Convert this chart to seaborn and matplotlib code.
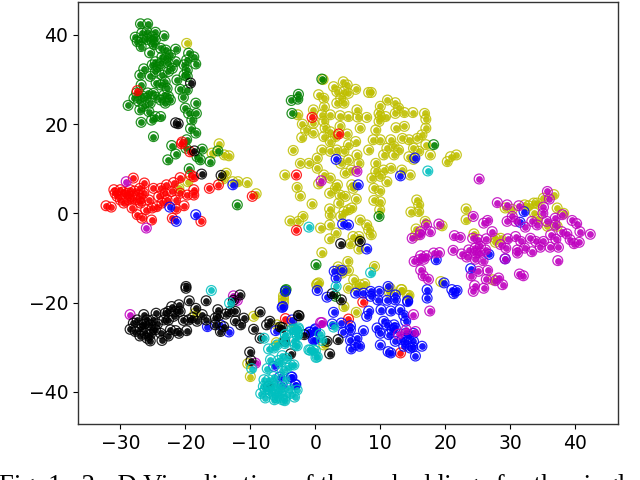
import matplotlib
matplotlib.use('Agg')
import matplotlib.pyplot as plt
import pandas as pd
import seaborn as sns

#points, one list per class (x, y)
green_pts = [(-26.9,42.5),(-25.8,42.5),(-27.7,39.5),(-26.7,40.4),(-25.9,40.7),(-25.1,39.6),(-24.6,40.6),(-27.4,38.5),
    (-26.7,38.9),(-25.9,39),(-25.1,38.5),(-24.6,39),(-26.8,37.4),(-23.3,39.8),(-24.8,37.8),
    (-25.5,36),(-23.8,37),(-23,36.6),(-21.5,36.8),(-22.3,35.5),(-23.6,35.1),(-24.6,34),(-25.1,33.3),(-23.8,33.6),
    (-22.6,33.6),(-21.5,34),(-19.5,35.9),(-18.7,35.1),(-19.8,34.4),(-18.4,33.5),(-20.2,33.3),(-19.7,32.1),(-26.4,32.4),
    (-27,31),(-25.4,30.7),(-24.6,31.8),(-23.6,31),(-22.6,31.8),(-21.3,29.9),(-20.2,31),(-19.7,30.7),(-24.5,29.3),
    (-23.1,29.5),(-23.8,28.8),(-26.8,28.8),(-20.8,27.8),(-19.7,27.7),(-24.9,26.9),(-23.3,26.5),(-22.6,26.2),(-23.8,25.4),
    (-23.1,24.7),(-22.3,25.4),(-26.1,25.8),(-27.9,25.8),(-27.2,25.1),(-25.4,24.7),(-28.8,24.2),(-27,23.2),(-25.6,22.8),
    (-23.8,21.7),(-24.6,21.7),(-25.2,20.9),(-26.8,20.4),(-20.3,26),(-18.4,24.7),(-20,23.6),(-18.3,22.4),(-19.5,22.4),
    (-19,20.9),(-19.2,19),(-18.4,18),(-24.9,17.2),(-22.1,15.2),(-19.8,16.5),(-19.9,14.6),(-21.5,13.3),(-22.7,12),
    (-17.4,14.4),(-15,14),(-18.2,12.7),(-17.7,12),(-16.2,11.6),(-19.4,10),(-12,1.9),
    (-26.4,24),(-24.5,26),(-25.8,27),(-27.5,27),(-26.6,26.3),(-22.8,28),(-24.2,32.8),(-23,34.8),(-22,32.5),
    (1,30.1),(-2.6,26.7),(-3.7,25.3),(-2.7,25.6),(-3.6,22.4),(18.2,15.4),(9.8,-.7),(.1,-11.5),(-4.6,-17.3),(3.1,-18.6),(-4.5,-17.1)]

red_pts = [(-32.2,1.7),(-31.4,1.4),(-31,5.3),(-30.5,3.8),(-30,5.3),(-29.2,4.1),(-28.5,5.3),(-28,7.9),(-28.7,3),(-27.7,3),
    (-27.2,4.1),(-26.3,6.8),(-26.4,4.5),(-26.9,2.3),(-26.1,.8),(-27.4,-.3),(-26.7,-1.1),(-25.2,-1.5),(-25.1,1.2),(-25.6,3),
    (-24.9,5.6),(-23.8,5.6),(-22.9,6.4),(-21.8,6.9),(-20.8,8),(-19.2,8.6),(-18.7,8.2),(-24.1,3.8),(-23.1,4.5),(-22.1,4.9),
    (-23.6,2.3),(-22.8,3),(-21.5,3),(-20.8,4.5),(-19.7,4.1),(-18.7,5.3),(-18.7,4.1),(-21.4,1),(-20.2,1.7),(-24.4,1.5),
    (-29.5,2.3),(-28.2,1.2),(-30,3),(-29.6,4.8),(-28.9,4.5),(-28.3,3.8),(-27.8,5),(-27,5.6),(-26.8,3.3),(-30.8,4.5),
    (-20.5,16),(-19.3,13.8),(-16.3,5.6),(-14.9,6.4),(-9.7,3.8),(-17.6,-1.8),(-22,-1.1),(-27.4,27.5),
    (-.5,21.5),(3.6,17.8),(-2.9,8.6),(-2.9,-3.8),(7.3,-19.9),(5.1,-23.7),(13.1,-31.3),(-4.6,-23.6),(-20.6,15.6)]

black_pts = [(-28,-24.6),(-28.5,-26),(-27.7,-26.5),(-27.4,-23.9),(-26.4,-22.7),(-26.7,-25),(-25.9,-23.9),(-25.4,-25),
    (-26.2,-26.9),(-25.4,-27.2),(-25.4,-28.6),(-25.9,-28),(-24.5,-22.4),(-25,-23.9),(-24.6,-26.1),(-23.8,-26.9),(-23.6,-28.5),
    (-23.1,-22.4),(-22.6,-22),(-23.3,-23.9),(-22.6,-23.9),(-22.1,-20.9),(-21.5,-22),(-20.8,-22),(-21,-20.5),(-21.8,-23.1),
    (-22.3,-26.1),(-22.6,-27.5),(-21.5,-26.3),(-21,-26.9),(-19.8,-26.3),(-20.3,-24),(-19.5,-23.9),(-19.9,-16.8),(-19.9,-16.4),
    (-19.4,-19.6),(-16.8,-19.6),(-18.4,-21.3),(-17.4,-22.7),(-18.2,-24.2),(-16.8,-23.9),(-15,-21.6),(-15.4,-23.5),(-15.4,-25),
    (-13.8,-22.6),(-13.1,-22),(-12.3,-22),(-12.3,-24.1),(-11,-23.5),(-11.5,-25),(-14.1,-25.4),(-14.6,-26.5),(-11.6,-18.3),(-12.6,-19.5),
    (-26.9,-26),(-26.3,-24.8),(-25.2,-26.2),(-24.3,-24.8),(-27,-27.5),(-14.9,-23),(-18.9,-23.4),
    (-9.5,-26),(-8.5,-22.1),(-7.5,-25),(-7,-24.2),(-5.4,-25.5),(-2.5,-23),(-8.5,-28),(-10.1,-31.1),(-9.9,-33),(-3.8,-31.5),(-4.7,-28.7),(-1.7,-27.2),
    (-7.2,-38.8),(-2.6,-22.9),(-5.1,-25.6),(1.8,-28.7),(3.5,-28.3),(2.2,-31.5),(2.6,-18),(4,-19.4),
    (-19.2,29.2),(-21.5,20.3),(-21.1,20.1),(-18.6,14),(-17.5,8.8),(-14.5,8.5),(3.9,-6.8),(6.9,-6.3)]

cyan_pts = [(-16,-17.3),(-13.2,-20.1),(-9.8,-34.8),(-7.9,-28),(-7.2,-30.4),(-6.4,-30.2),(-5.9,-29.5),(-4.6,-27.2),(-3.3,-26),(-2.6,-26),
    (-2.8,-27.2),(-2.8,-29.7),(-4.7,-29.2),(-.8,-30.7),(0,-30.8),(.3,-32.2),(-6.9,-32.8),(-7.4,-34.8),(-5.1,-31.9),(-4.4,-32.5),
    (-5.4,-33.6),(-3.8,-34),(-3.3,-34),(-4.4,-34.7),(-5.1,-35.4),(-6.4,-36.6),(-7.9,-37.3),(-7.2,-37.3),(-6.4,-38.1),(-5.6,-38.8),
    (-4.1,-39.2),(-2.8,-39.6),(-8.4,-40.4),(-7.7,-41.4),(-6.9,-40.3),(-6.4,-40.7),(-5.9,-41.4),(-5.1,-41.8),(-4.6,-41),(-3.8,-40.4),
    (-6.7,-39.2),(-5.9,-39.9),(-5.4,-40.3),(-7.2,-39.5),(-7.7,-39.5),(-4.9,-39.5),(-4.7,-42),(-3.2,-41.2),(-6.3,-41.8),(-8,-38.8),
    (-3.1,-26.1),(-2.6,-25.7),(-3.6,-26.1),(-2.8,-27.4),(-4.6,-27.2),(-4.9,-28.7),(-3.1,-29.5),(-3.3,-28.7),(-1,-30.6),(-.3,-30.6),
    (.1,-32.3),(.7,-27.1),(1,-28.5),(2.8,-25.5),(3.2,-16.4),(8.5,-13.3),(-1,-3.1),(17.3,9.5),(-5.7,-33),(-4.7,-37.2)]

yellow_pts = [(1.2,30),(2.8,28.4),(4.3,29.5),(4.9,28.8),(6.2,27.8),(8.6,27.1),(8.2,27.1),(.5,26.6),(1.3,25.8),(3.3,27.3),(4.4,27.3),(5.1,26.9),
    (3.9,25.8),(4.4,24.7),(3.3,24.7),(1.4,23.9),(11.1,25.4),(12.3,24.8),(12.8,23.6),(10,24),(9.8,22.4),(10.8,21.7),(12.3,22.4),(13.7,22.6),
    (15,22.6),(16.8,22.4),(17,21.1),(9.8,20.6),(10,21.7),(7.9,21.5),(6.4,23.2),(6.5,21.6),(5.1,21.7),(3.8,21.9),(2.3,22.1),(1,22.1),(-.3,23.2),
    (-2.7,22.1),(-2,20),(-1.5,18.6),(-.3,20.2),(-.3,18),(-2.1,17),(1.3,20.6),(1.5,19.1),(1.3,17.2),(2.3,18.3),(3.1,17.2),(2.3,16.1),(3.8,19.5),(4.9,17.8),
    (6.9,19.1),(6.2,16.1),(5.1,15.4),(9.3,18.7),(12.4,19.2),(13.7,19.5),(17,19.1),(16.4,17.6),(15.7,16.8),(14.4,16.5),(13.4,16.8),(8.9,16.5),
    (10,16.5),(11.6,16.5),(11,14.6),(12.1,15),(8.2,14.2),(10.5,13.1),(12.1,13.1),(12.8,14.2),(14.4,12.7),(15.1,14.6),(17,15.4),(17.7,13.1),(15.9,13.9),
    (20.3,11.6),(20.8,12.7),(21.7,13.1),(-3.4,14.1),(-2.3,11.2),(-1,11.2),(.3,12.4),(.3,10.1),(1,14.2),(2.3,13.9),(3.3,14.2),(4.4,13.9),(5.1,12),(6.4,13.1),
    (6.7,11.2),(3.9,11.2),(1.3,8.6),(2.3,7.9),(4.6,9),(5.5,9.7),(9.3,11.2),(9.3,9.4),(10.5,9.7),(11.6,10.1),(13.3,9.7),(15.1,12.1),(8.7,7.9),(10,8.3),(11,7.1),
    (14.6,8.6),(-4.7,8.6),(-2.8,5.8),(-2.3,3.9),(.5,6.6),(3.4,6.4),(3.1,5.6),(5.6,6.4),(5.8,5.6),(2.2,4.5),(3.8,4.1),(4.6,3.8),(6.3,3.2),(9,5.6),(9.9,5),(9,2.9),
    (10,2.6),(9.9,.8),(-.5,2.1),(3.6,2.3),(2.2,1),(2.3,-.3),(4.4,.4),(5.6,1.2),(5.1,.8),(3.9,-.7),(-1.9,-.7),(-2.6,-1.8),(-3.9,-1.7),(6.9,-1.5),(7.9,-2.6),(8.2,-3.7),
    (8.6,-4.8),(2.2,-2.6),(.8,-3.3),(3.2,-4.4),(2.2,-5.7),(5.8,-5.2),(6.7,-5.2),(5.4,-6.8),(6.7,-8),(1,-8.8),(15.6,3),(15.9,1.9),(14.7,.3),(15.9,.4),
    (15.4,-5),(23.2,1),(23.2,-1.4),(16.9,-1.8),(15.5,-3.5),(19.5,-2.8),(24.4,-4.6),(27.7,-5.6),(28.5,-5.6),(27.7,-6.5),(29.2,1.2),(30.3,.9),(32.2,1.9),
    (32.8,1.7),(33.6,2.3),(34.1,2.3),(35.1,3.4),(36.7,4.2),(33.7,.1),(34.2,-1.3),(37.2,1.2),(38.2,0),(35.7,-2.9),(37.2,-2.9),(19.3,-15.3),(13.3,-17.1),
    (14.2,-18.5),(27.3,-14.9),
    (3.5,-12),(5,-10.8),(5.1,-12.8),(4.1,-13.4),(9.1,-11.9),(.5,-15.6),(.2,-16),(5.9,-14.9),(5.1,-16.8),(6.4,-16.4),(6.9,-16),(7.6,-15.8),(11.5,-16.8),
    (11.4,-17.7),(13.2,-17.1),(14.4,-18.4),(4.4,-20.9),(6.3,-22.2),(-3.6,-24.5),(1.3,-29.5),(-4.9,-19.2),(-4.9,-18.5),(-4.9,-20),(-18.5,-22.4),(-9.5,-23.1),
    (-5.9,-25),(-6,-29),(-10.4,-33.7),(-10,-36.6),(.3,-15.8),
    (-19.8,38.1),(-14.8,15.6),(-15.9,13.5),(-14,13.1),(-13.3,12.9),(-13.7,9),(-14.2,7.7),(-12.7,7.1),(-11.9,7.1),(-10.5,6.9),(-9.1,4.4),(-19.6,7.1),(-21,5.6)]

blue_pts = [(2.9,-13),(3.2,-14.5),(4.1,-12.8),(.3,-17.3),(1.8,-18.8),(6.2,-17.9),(7.4,-17.9),(8.5,-17.5),(9.8,-17.5),(8.5,-18.6),(9.6,-19.4),(11.2,-16.4),
    (11,-19.5),(12.3,-18.3),(12.3,-19.4),(14.2,-19.8),(17.2,-17.1),(17.2,-19),(21,-17.1),(21.8,-17.3),(21.3,-18),(2.8,-22.2),(8.2,-21.9),(7.9,-23.1),
    (10.1,-21.6),(11.6,-21.9),(13,-21.6),(13.6,-22.9),(2.6,-24.8),(4,-24.6),(5.4,-25.2),(5.4,-26.1),(4.3,-26.7),(7.4,-26.3),(0,-25.9),(-.9,-26.6),(-.3,-28.3),
    (13.9,-24.2),(10.5,-24.2),(9.5,-25.7),(10,-26.9),(11,-25),(11.8,-26.1),(11.3,-27.2),(12.3,-25.7),(12.1,-25),(5.4,-28.5),(6.4,-28),(6.2,-29.5),(5.5,-30.4),
    (6.8,-29.8),(10,-29.5),(11.2,-31),(11.6,-31.3),(13.9,-26.9),(13.3,-28.3),(14.4,-27.6),(15.1,-28.7),(16.4,-29.8),(13.6,-29.8),(14.6,-30.2),(15.4,-32),(15.1,-26.9),
    (12.3,-28.7),(14,-28.9),(15,-30),(-3.6,-36.7),(-5.1,-38.4),(-3.1,-38.4),(-5,-20.9),
    (-16.6,-25.4),(-13.3,-26.6),(-14.6,-25),(-6.1,-26.3),(-5.1,-21.1),(-4.6,-17.5),(-6.4,-34.3),(-5.5,-36.7),(-3.7,-36.7),(-3,-38.4),(-3.6,-23.9),
    (-.9,-26.7),(0,-26.1),(-.1,-28.3),
    (3.2,12.1),(15.3,12.4),(13.1,8.4),(6.6,6.4),(4.2,-2.4),(5.1,-2.6),(7.9,-8),
    (32.1,.4),(31.5,-2),(26.7,-9.2),(29.2,-10.2),(18.6,-10.4),(23.9,-12.4),(19.8,-15.6),(14.2,-19.6),(-18.4,-.3),(-21.4,-1.8),(-22.4,1.4),(-12.7,6.4)]

magenta_pts = [(25.2,7.7),(28,2.4),(29.5,1.9),(31.3,1.7),(35.7,4.9),(36,3.2),(35.1,1.4),(35,0),(24.3,-.7),(26.5,-1.6),(25.9,-2.2),(19,-2.4),(17.1,-2.6),(17.7,-4.1),
    (16.2,-4.1),(16.1,-4.8),(14.9,-5.6),(21.4,-5),(22.3,-5.4),(24.2,-5.6),(25.1,-5.9),(26.3,-5.7),(27.2,-4.1),(29.5,-1.8),(30.3,-.7),(30.8,-1.8),(32.3,-3.1),
    (33.3,-1.8),(34.1,-2.6),(35.6,-1.8),(36.9,-1.1),(38,-.3),(36.9,-2.6),(39.5,-1.6),(40.2,-2.3),(40.7,-4.1),(42.3,-4.7),(37.9,-4.1),(38.7,-4.6),(36.2,-4.8),
    (39.2,-5.9),(39.8,-6.8),(40.6,-6.5),(37,-5.8),(37.4,-7.6),(36.1,-7.6),(35.1,-6.3),(34.6,-7.6),(33.1,-5.6),(33.9,-6.3),(33.3,-8.6),(31.6,-6.3),(30.8,-5.2),
    (29.6,-5.7),(32.2,-7.8),(31.1,-8.2),(31.1,-8.9),(28.5,-7),(29.3,-7.8),(37.3,-10.6),(21.2,-8.3),(19.1,-8.8),(18.2,-8.9),(17.1,-9.5),(16.2,-9.5),(16.7,-10.3),
    (15.9,-10.4),(15.2,-10.8),(22.5,-9.1),(23.6,-8.2),(24.6,-7.8),(25.4,-7.4),(24.6,-8.9),(25.4,-8.9),(26.2,-8.2),(24.6,-10.3),(25.8,-10.6),(23.3,-9.8),(29.2,-10.2),
    (16.2,-12.7),(16.6,-14),(17.4,-14.8),(24,-14),(25.1,-13),(26.5,-12.8),(26.3,-14.8),(27.7,-15.1),(28.2,-14.5),(28.8,-16),(31.4,-13.6),(32,-14),(24.5,-16.2),
    (24.3,-17.5),(25.9,-16.8),(17.6,-21.9),(15.1,-22.7),(14,-26.1),(15.4,-26.5),(6.4,9.4),(.9,7.3),(1,-24.5),(12.8,-27.1),(-28.5,-22.7),(-12.6,-18.5),(-12,-19.5),
    (-9.2,-33.6),(.8,-24.5),(-29.1,7.1),(-26,-3.3)]

tick_x = [-30, -20, -10, 0, 10, 20, 30, 40]
tick_y = [-40, -20, 0, 20, 40]
caption = "Fig. 1.  2 - D Visualization of the embeddings for the single"

colors = {'g': 'g', 'r': 'r', 'k': 'k', 'c': 'c', 'y': 'y', 'b': 'b', 'm': 'm'}
series = [('y', yellow_pts), ('g', green_pts), ('r', red_pts), ('b', blue_pts), ('m', magenta_pts), ('k', black_pts), ('c', cyan_pts)]

rows = []
for name, pts in series:
    for x, y in pts:
        rows.append({'x': x, 'y': y, 'cls': name})
df = pd.DataFrame(rows)

sns.set_style('white')
fig, ax = plt.subplots(figsize=(6.4, 4.8), dpi=100)
fig.subplots_adjust(left=0.122, right=0.966, top=0.996, bottom=0.117)

#small solid dot with an open ring round it
for name, pts in series:
    part = df[df['cls'] == name]
    sns.scatterplot(data=part, x='x', y='y', color=colors[name], s=24, linewidth=0, alpha=0.9, ax=ax, legend=False)
    sns.scatterplot(data=part, x='x', y='y', s=50, facecolors='none', edgecolor=colors[name], linewidth=0.9, alpha=0.85, ax=ax, legend=False)

ax.set_xlim(-36.5, 46.6)
ax.set_ylim(-47.2, 47.4)
ax.set_xticks(tick_x)
ax.set_yticks(tick_y)
ax.set_xlabel('')
ax.set_ylabel('')
ax.tick_params(axis='both', labelsize=13.5, length=3.5, width=0.8, bottom=True, left=True, color='k', labelcolor='k')
for s in ax.spines.values():
    s.set_color('#333333')
    s.set_linewidth(1.0)

#caption runs off the bottom of the picture, as in the scan
fig.text(-0.002, 1 - 474 / 480, caption, family='Liberation Serif', fontsize=19.3, color='k', va='top', ha='left')

fig.savefig('out.png', dpi=100)
